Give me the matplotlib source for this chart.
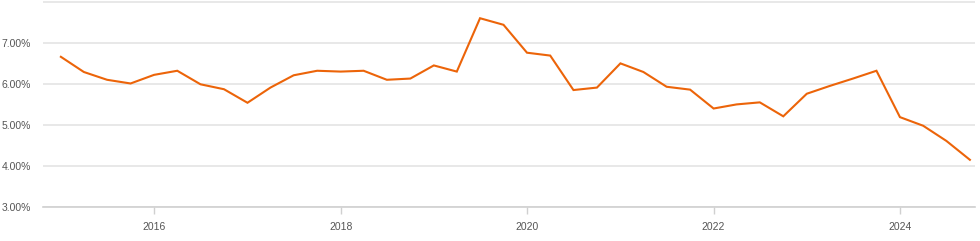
import numpy as np
import pandas as pd
import matplotlib
matplotlib.use('Agg')
import matplotlib.pyplot as plt
import matplotlib.dates as mdates
from matplotlib.ticker import FuncFormatter

# Quarterly values (percent)
start_date = '2015-01-01'
rates = [
    6.66, 6.29, 6.10, 6.01,   # 2015
    6.22, 6.32, 5.99, 5.87,   # 2016
    5.54, 5.91, 6.21, 6.32,   # 2017
    6.30, 6.32, 6.10, 6.13,   # 2018
    6.45, 6.30, 7.60, 7.44,   # 2019
    6.76, 6.69, 5.85, 5.91,   # 2020
    6.50, 6.29, 5.93, 5.86,   # 2021
    5.40, 5.50, 5.55, 5.21,   # 2022
    5.76, 5.95, 6.13, 6.32,   # 2023
    5.19, 4.98, 4.61, 4.15,   # 2024
]
y_ticks = [3, 4, 5, 6, 7, 8]

dates = pd.date_range(start_date, periods=len(rates), freq='QS')

plt.rcParams['font.family'] = ['Liberation Sans', 'DejaVu Sans']

fig = plt.figure(figsize=(9.8, 2.41), dpi=100)
ax = fig.add_axes([43 / 980, 1 - 207 / 241, (975 - 43) / 980, 206 / 241])

ax.plot(dates, rates, color='#ec6409', linewidth=1.5, solid_joinstyle='miter')

ax.set_ylim(3, 8.02)
ax.set_yticks(y_ticks)
ax.yaxis.set_major_formatter(FuncFormatter(lambda v, p: '' if v >= 8 else f'{v:.2f}%'))
ax.set_xlim(pd.Timestamp('2014-10-23'), pd.Timestamp('2024-10-21'))
ax.xaxis.set_major_locator(mdates.YearLocator(2))
ax.xaxis.set_major_formatter(mdates.DateFormatter('%Y'))

ax.grid(axis='y', color='#e4e4e4', linewidth=1.2)
ax.set_axisbelow(True)
for side in ['top', 'right', 'left']:
    ax.spines[side].set_visible(False)
ax.spines['bottom'].set_color('#d0d0d0')
ax.spines['bottom'].set_linewidth(1.2)

ax.tick_params(axis='y', length=0, pad=8.5, labelsize=7.5, labelcolor='#555555')
ax.tick_params(axis='x', length=5, width=1, color='#d0d0d0', pad=6,
               labelsize=7.5, labelcolor='#555555')
for lbl in ax.get_yticklabels():
    lbl.set_verticalalignment('center_baseline')

fig.savefig('out.png', dpi=100)
